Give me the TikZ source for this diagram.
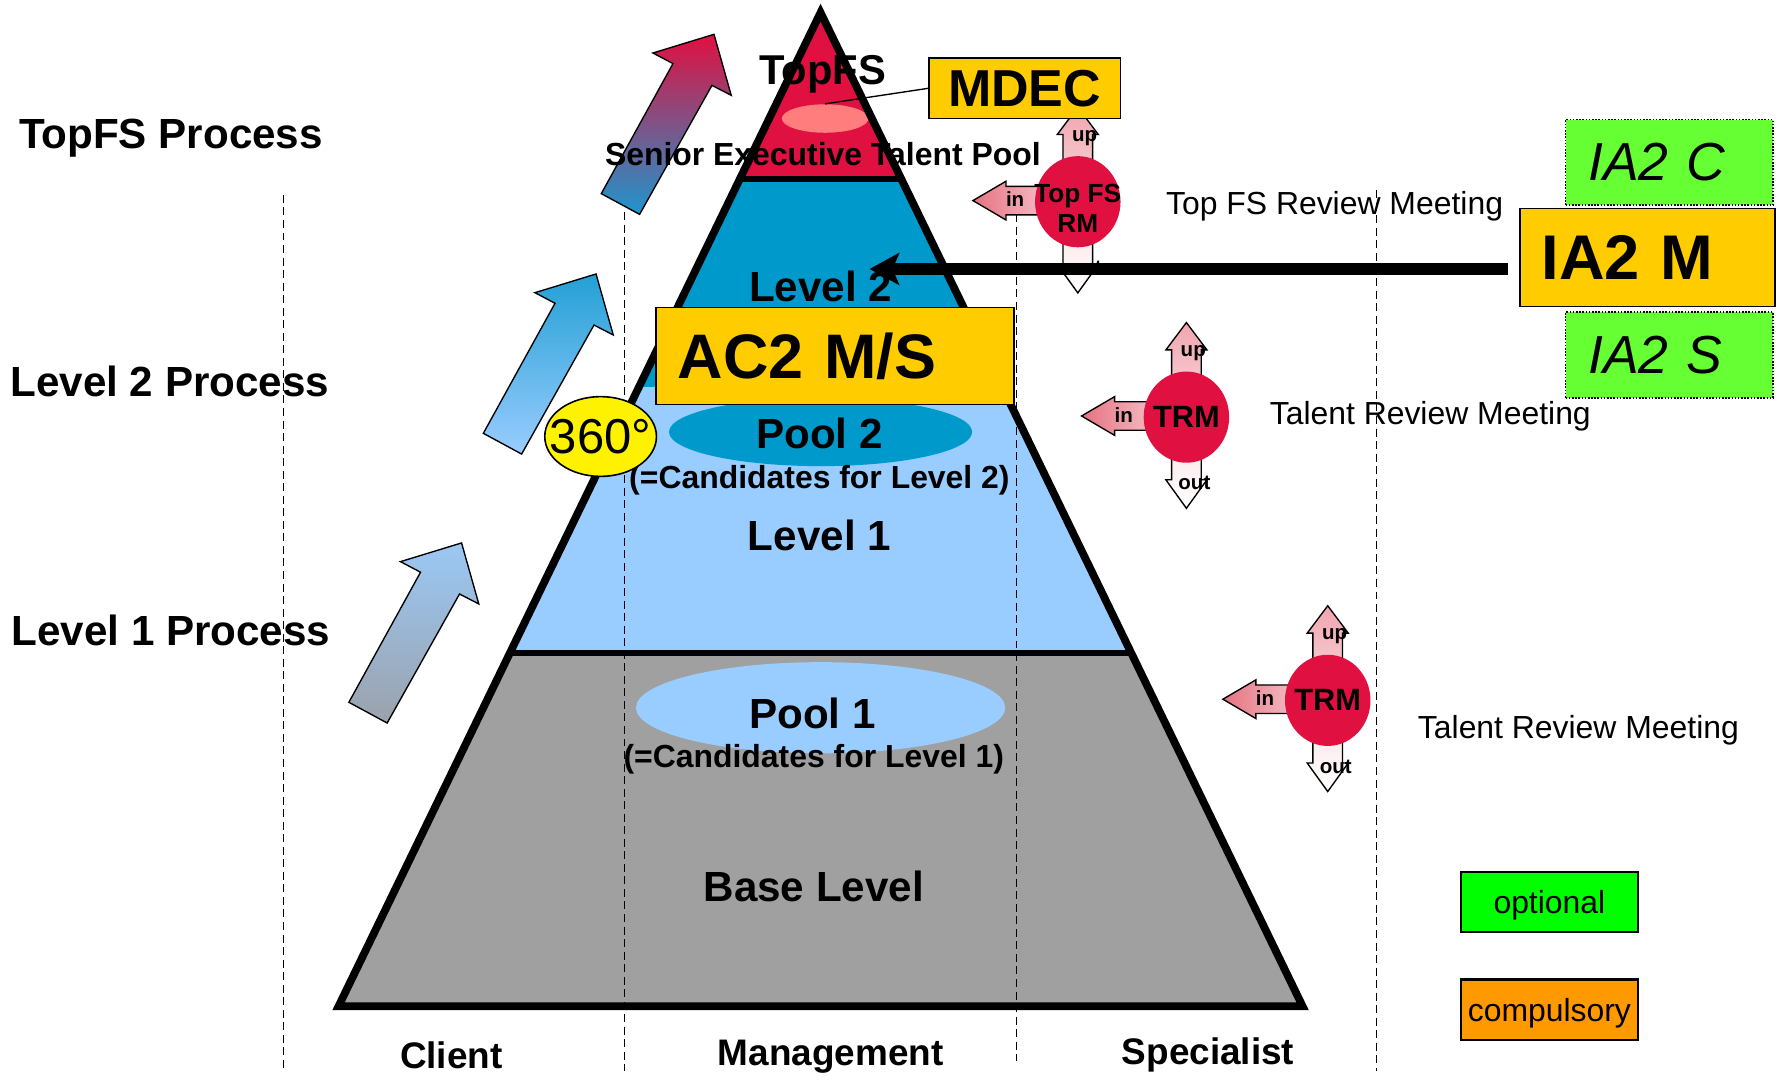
\documentclass[tikz,border=0pt]{standalone}
\usepackage{fontspec}
\setmainfont{Liberation Sans}
\usetikzlibrary{shapes.geometric,arrows.meta}
\definecolor{topred}{RGB}{224,16,64}
\definecolor{l2blue}{RGB}{0,153,204}
\definecolor{l1blue}{RGB}{153,204,255}
\definecolor{basegray}{RGB}{160,160,160}
\definecolor{boxyellow}{RGB}{255,204,0}
\definecolor{salmon}{RGB}{255,125,125}
\definecolor{iagreen}{RGB}{102,255,51}
\definecolor{optgreen}{RGB}{0,255,0}
\definecolor{comporange}{RGB}{255,153,0}
\definecolor{arrowblue}{RGB}{30,150,205}
\definecolor{arrowtopblue}{RGB}{36,160,212}
\definecolor{arrowgray}{RGB}{155,162,172}
\definecolor{arrowlblue}{RGB}{155,200,245}
\definecolor{pinkdark}{RGB}{230,115,130}
\definecolor{pinkmid}{RGB}{240,165,175}
\definecolor{pinklight}{RGB}{250,220,224}
\newcommand\fsz[1]{\fontsize{#1}{#1}\selectfont}
\newcommand\bigup[4]{%
  \shadedraw[draw=black, line width=0.6pt, line join=miter, top color=#3, bottom color=#4, shift={(#1,#2)}]
   (0,0) -- (15.1,53.5) -- (-1.8,44.8) -- (-65.3,158) -- (-98.9,139.8) -- (-36,25.7) -- (-53.6,16.4) -- cycle;}
\newcommand\meetsym[5]{%
  \begin{scope}[shift={(#1,#2)}]
  \shadedraw[pinkarrow, top color=pinkmid, bottom color=pinklight]
    (-13,0) -- (-13,-59) -- (-18,-59) -- (0,-83) -- (18,-59) -- (13,-59) -- (13,0) -- cycle;
  \shadedraw[pinkarrow, top color=pinklight, bottom color=white]
    (-13,0) -- (-13,55) -- (-18,55) -- (0,80) -- (18,55) -- (13,55) -- (13,0) -- cycle;
  \shadedraw[pinkarrow, left color=pinkdark, right color=pinklight]
    (0,-13.5) -- (-63,-13.5) -- (-63,-18) -- (-92,-1) -- (-63,16) -- (-63,11.5) -- (0,11.5) -- cycle;
  \node[meetcirc] (#3) at (0,0) {};
  \node[meettext, #5] (#3txt) at (0,0) {#4};
  \node[arrlabel] (#3up) at (6,-56) {up};
  \node[arrlabel] (#3in) at (-55,-2) {in};
  \node[arrlabel] (#3out) at (7,58) {out};
  \end{scope}}
\begin{document}
\begin{tikzpicture}[x=0.5pt,y=-0.5pt,
  lbl/.style={font=\bfseries\fsz{18.5}, inner sep=0},
  sublbl/.style={font=\bfseries\fsz{14}, inner sep=0},
  collbl/.style={font=\bfseries\fsz{16.2}, inner sep=0},
  meettxt/.style={font=\fsz{14}, inner sep=0},
  dashline/.style={black, line width=0.6pt, dash pattern=on 3.5pt off 2pt},
  ybox/.style={draw=black, line width=0.6pt, fill=boxyellow},
  gbox/.style={draw=black, line width=0.7pt, dash pattern=on 0.7pt off 0.7pt, fill=iagreen},
  legendbox/.style={draw=black, line width=1pt, minimum width=77.5pt, minimum height=26.5pt, inner sep=0, text depth=0pt, font=\fsz{14}},
  pinkarrow/.style={draw=black, line width=0.6pt, line join=miter},
  meetcirc/.style={ellipse, fill=topred, minimum width=37.5pt, minimum height=40pt, inner sep=0},
  meettext/.style={font=\bfseries\fsz{13.5}, align=center, inner sep=0},
  arrlabel/.style={font=\bfseries\fsz{9}, inner sep=0},
  outline/.style={line width=3.4pt, line join=miter, black},
  seprule/.style={line width=2.6pt, black}]
\fill[white] (0,0) rectangle (1568,949);
\useasboundingbox (0,0) rectangle (1568,949);

% pyramid layers
\begin{scope}
  \clip (720,11) -- (1143,883) -- (297,883) -- cycle;
  \fill[topred] (0,0) rectangle (1568,157);
  \fill[l2blue] (0,157) rectangle (1568,340);
  \fill[l1blue] (0,340) rectangle (1568,573);
  \fill[basegray] (0,573) rectangle (1568,883);
\end{scope}
\node[ellipse, fill=salmon, minimum width=38pt, minimum height=12.5pt, inner sep=0] (pooltop) at (724,104) {};
\node[ellipse, fill=l2blue, minimum width=133pt, minimum height=30pt, inner sep=0] (pool2e) at (720,379) {};
\node[ellipse, fill=l1blue, minimum width=162pt, minimum height=40pt, inner sep=0] (pool1e) at (720,621) {};
\draw[seprule] (649.2,157) -- (790.8,157);
\draw[seprule] (447.4,573) -- (992.6,573);
\draw[outline] (720,11) -- (1143,883) -- (297,883) -- cycle;

% dashed column lines
\draw[dashline] (249,171) -- (249,940);
\draw[dashline] (548,186) -- (548,940);
\draw[dashline] (892,188) -- (892,931);
\draw[dashline] (1208,167) -- (1208,940);

% process arrows
\bigup{626.5}{30.1}{topred}{arrowblue}
\bigup{523}{240.4}{arrowtopblue}{l1blue}
\bigup{405}{476.4}{arrowlblue}{arrowgray}

% left labels
\node[lbl] (ptop) at (150,121) {TopFS Process};
\node[lbl] (plev2) at (149,335) {Level 2 Process};
\node[lbl] (plev1) at (150,553) {Level 1 Process};

% pyramid texts
\node[lbl, font=\bfseries\fsz{18.3}] (ttop) at (722,65) {TopFS};
\node[sublbl] (tsenior) at (722,135) {Senior Executive Talent Pool};
\node[lbl] (tlev2) at (720,251) {Level 2};
\node[lbl] (tpool2) at (719,380) {Pool 2};
\node[sublbl] (tcand2) at (719,421) {(=Candidates for Level 2)};
\node[lbl] (tlev1) at (719,470) {Level 1};
\node[lbl] (tpool1) at (713,626) {Pool 1};
\node[sublbl] (tcand1) at (714,666) {(=Candidates for Level 1)};
\node[lbl] (tbase) at (714,778) {Base Level};
\node[collbl] (cclient) at (396,926) {Client};
\node[collbl] (cmgmt) at (729,927) {Management};
\node[collbl] (cspec) at (1060,926) {Specialist};

% AC2 box and 360
\node[ybox, anchor=west, minimum height=42.5pt, text width=138pt, inner xsep=9.5pt, inner ysep=0, align=left, font=\bfseries\fsz{27.6}] (ac2) at (575,312.5) {AC2 M/S};
\node[ellipse, draw=black, line width=0.7pt, fill=yellow, minimum width=49pt, minimum height=35pt, inner sep=0] (deg) at (527,383) {};
\node[font=\fsz{21.5}, inner sep=0] (degtxt) at (deg.center) {360°};

% meeting symbols
\meetsym{945.7}{177}{tfsrm}{Top FS\\RM}{font=\bfseries\fontsize{11.5}{13}\selectfont, yshift=-3pt}
\meetsym{1041}{366}{trmA}{TRM}{}
\meetsym{1165}{614.5}{trmB}{TRM}{}

% MDEC
\node[ybox, minimum width=84pt, minimum height=26.5pt, inner sep=0, font=\bfseries\fsz{22.8}] (mdec) at (899,77.5) {MDEC};
\draw[black, line width=0.6pt] (pooltop.north) -- (mdec.west);

% meeting texts
\node[meettxt] (mtop) at (1171,181) {Top FS Review Meeting};
\node[meettxt] (mtrmA) at (1255,365) {Talent Review Meeting};
\node[meettxt] (mtrmB) at (1385,641) {Talent Review Meeting};

% IA2 boxes
\node[gbox, anchor=west, minimum height=37.5pt, text width=71pt, inner xsep=10pt, inner ysep=0, align=left, font=\itshape\fsz{23.5}] (ia2c) at (1373,142.5) {IA2 C};
\node[ybox, anchor=west, minimum height=43pt, text width=93pt, inner xsep=9.5pt, inner ysep=0, align=left, font=\bfseries\fsz{27.7}] (ia2m) at (1333,226) {IA2 M};
\node[gbox, anchor=west, minimum height=37.5pt, text width=71pt, inner xsep=10pt, inner ysep=0, align=left, font=\itshape\fsz{23.5}] (ia2s) at (1373,311.5) {IA2 S};

% big black arrow
\coordinate (l2tip) at (763,236);
\draw[line width=5pt, -{Stealth[length=13pt, width=14pt, inset=3pt]}] ([xshift=-5pt]ia2m.west |- l2tip) -- (l2tip);

% legend
\node[legendbox, fill=optgreen] (lopt) at (1359.5,791.5) {optional};
\node[legendbox, fill=comporange] (lcomp) at (1359.5,886) {compulsory};
\end{tikzpicture}
\end{document}
